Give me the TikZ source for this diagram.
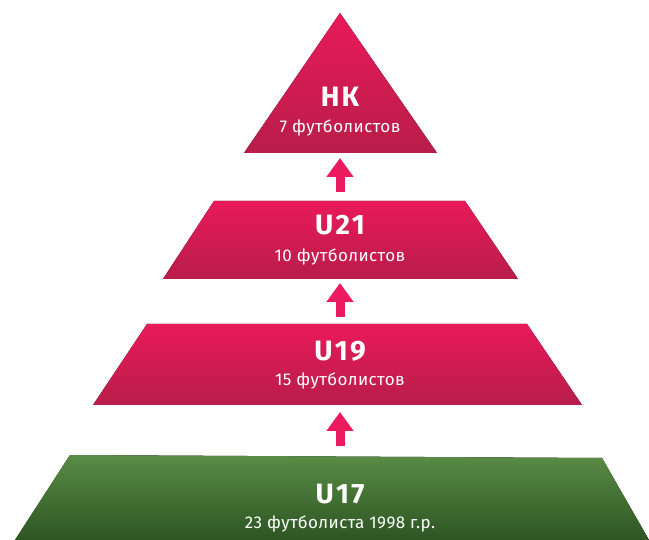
\documentclass[tikz,border=0pt]{standalone}
\usepackage{fontspec}
\setmainfont{Fira Sans}
\usetikzlibrary{arrows.meta}

\definecolor{tierpinktop}{HTML}{E91A5A}
\definecolor{tierpinkbot}{HTML}{B81D4A}
\definecolor{tiergreentop}{HTML}{598C45}
\definecolor{tiergreenbot}{HTML}{2D5523}
\definecolor{uparrow}{HTML}{EC1A5E}

\tikzset{
  pinktier/.style={top color=tierpinktop, bottom color=tierpinkbot, draw=none},
  greentier/.style={top color=tiergreentop, bottom color=tiergreenbot, draw=none},
  tiername/.style={text=white, font=\bfseries\fontsize{28}{31}\selectfont\addfontfeature{LetterSpace=8}, inner sep=0pt},
  tiersub/.style={text=white, font=\fontsize{17}{20}\selectfont\addfontfeature{LetterSpace=2.5}, inner sep=0pt},
  uparr/.style={draw=uparrow, line width=9pt, -{Triangle[width=26pt,length=19pt]}},
}

\begin{document}
\begin{tikzpicture}[x=1pt,y=-1pt]
    \useasboundingbox (0,0) rectangle (649,540);

    % Tiers of the pyramid
    \fill[pinktier] (340,13) -- (437,153) -- (244,153) -- cycle;
    \fill[pinktier] (214,201) -- (465,201) -- (518,279) -- (163,279) -- cycle;
    \fill[pinktier] (147,324) -- (527,324) -- (582,405) -- (93,405) -- cycle;
    \fill[greentier] (70,455) -- (602,458) -- (649,540) -- (15,540) -- cycle;

    % Labels
    \node[tiername] (nk) at (340,97) {НК};
    \node[tiersub] (nksub) at (340,128) {7 футболистов};
    \node[tiername] (u21) at (340,225.5) {U21};
    \node[tiersub] (u21sub) at (340,257) {10 футболистов};
    \node[tiername] (u19) at (340,351) {U19};
    \node[tiersub] (u19sub) at (340,381) {15 футболистов};
    \node[tiername] (u17) at (340,494) {U17};
    \node[tiersub] (u17sub) at (340,524) {23 футболиста 1998 г.р.};

    % Arrows between tiers
    \coordinate (a1s) at (340,192); \coordinate (a1e) at (340,158);
    \coordinate (a2s) at (340,317); \coordinate (a2e) at (340,283);
    \coordinate (a3s) at (340,446); \coordinate (a3e) at (340,412);
    \draw[uparr] (a1s) -- (a1e);
    \draw[uparr] (a2s) -- (a2e);
    \draw[uparr] (a3s) -- (a3e);
\end{tikzpicture}
\end{document}
